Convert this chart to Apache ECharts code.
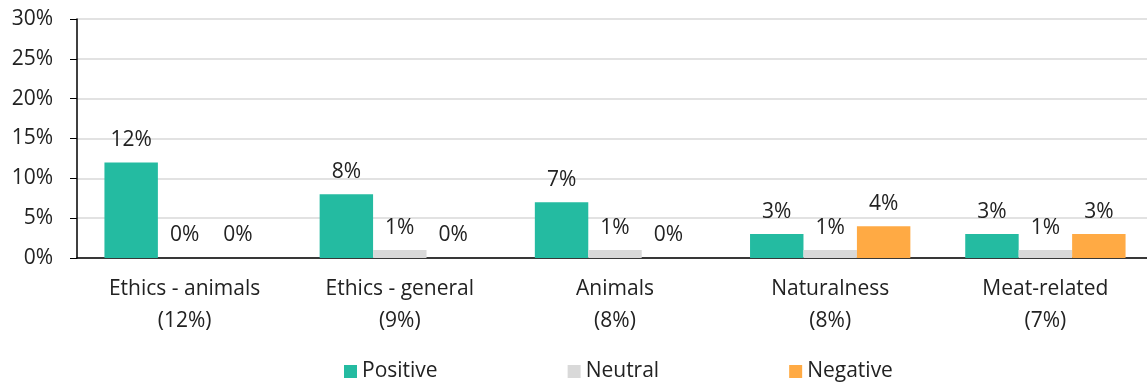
<!DOCTYPE html>
<html><head><meta charset="utf-8">
<script src="https://cdn.jsdelivr.net/npm/echarts@6/dist/echarts.min.js"></script>
<style>html,body{margin:0;padding:0;background:#fff}#c{width:1147px;height:383px}</style>
</head><body><div id="c"></div>
<script>
const categories = ["Ethics - animals\n(12%)", "Ethics - general\n(9%)", "Animals\n(8%)", "Naturalness\n(8%)", "Meat-related\n(7%)"];
const positive = [12, 8, 7, 3, 3];
const neutral = [0, 1, 1, 1, 1];
const negative = [0, 0, 0, 4, 3];
const yTicks = [0, 5, 10, 15, 20, 25, 30];

const FONT = '"Open Sans", "Noto Sans", sans-serif';
const FS = 21;
const chart = echarts.init(document.getElementById('c'), null, {renderer: 'canvas'});
const lbl = {show: true, position: 'top', distance: 12, formatter: '{c}%', color: '#222', fontSize: FS, fontFamily: FONT};
chart.setOption({
  animation: false,
  textStyle: {fontFamily: FONT},
  grid: {left: 77, top: 19, width: 1076, height: 239, containLabel: false, outerBoundsMode: 'none'},
  legend: {
    left: 339, top: 356, itemWidth: 13, itemHeight: 13, itemGap: 130,
    icon: 'rect',
    textStyle: {fontSize: FS, color: '#222', fontFamily: FONT},
    data: ['Positive', 'Neutral', 'Negative']
  },
  xAxis: {
    type: 'category', data: categories,
    axisLine: {lineStyle: {color: '#000', width: 1.5}},
    axisTick: {show: false},
    axisLabel: {color: '#222', fontSize: FS, lineHeight: 32, margin: 15, fontFamily: FONT, interval: 0}
  },
  yAxis: {
    type: 'value', min: yTicks[0], max: yTicks[yTicks.length - 1], interval: 5,
    axisLine: {show: true, lineStyle: {color: '#000', width: 1.5}},
    axisTick: {show: true, length: 7, lineStyle: {color: '#000'}},
    splitLine: {lineStyle: {color: '#d9d9d9', width: 1.5}},
    axisLabel: {formatter: '{value}%', color: '#222', fontSize: FS, margin: 24, fontFamily: FONT}
  },
  series: [
    {name: 'Positive', type: 'bar', data: positive, itemStyle: {color: '#24BBA1'}, barGap: '0%', barCategoryGap: '25.5%', label: lbl},
    {name: 'Neutral', type: 'bar', data: neutral, itemStyle: {color: '#D9D9D9'}, label: lbl},
    {name: 'Negative', type: 'bar', data: negative, itemStyle: {color: '#FFAA44'}, label: lbl}
  ]
});
</script>
</body></html>
